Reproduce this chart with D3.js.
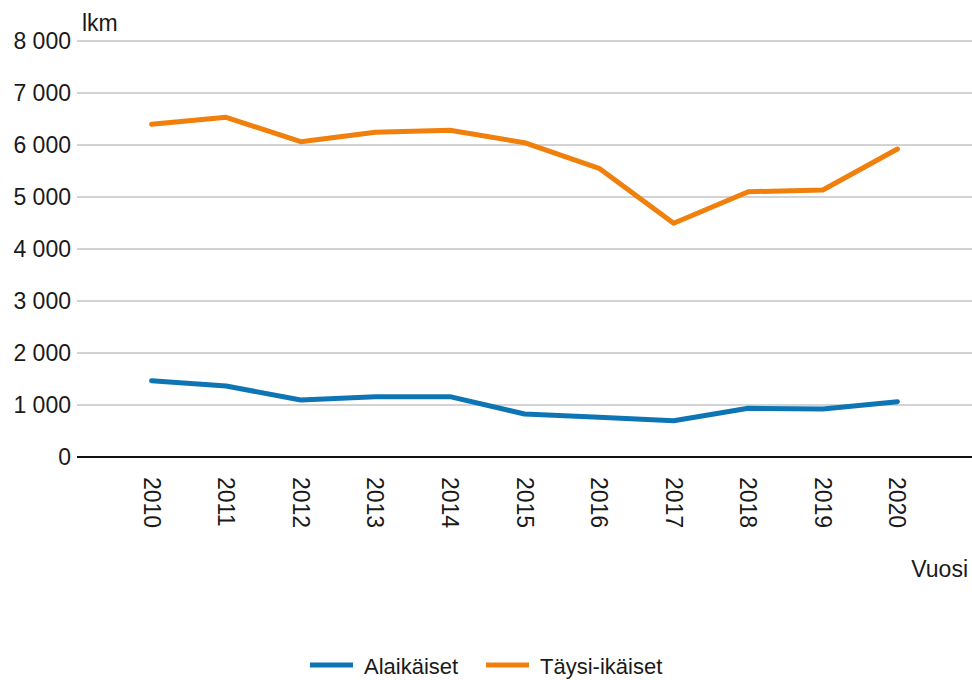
<!DOCTYPE html>
<html>
<head>
<meta charset="utf-8">
<script src="https://cdn.jsdelivr.net/npm/d3@7"></script>
<style>
  body { margin: 0; background: #fff; }
  text { font-family: "Liberation Sans", Arial, sans-serif; fill: #1a1a1a; }
</style>
</head>
<body>
<div id="figure"></div>
<script>
const years = ["2010", "2011", "2012", "2013", "2014", "2015", "2016", "2017", "2018", "2019", "2020"];
const alaikaiset = [1467, 1365, 1096, 1160, 1160, 827, 763, 698, 936, 923, 1064];
const taysiIkaiset = [6398, 6533, 6063, 6244, 6283, 6044, 5552, 4494, 5102, 5135, 5923];
const yTicks = [0, 1000, 2000, 3000, 4000, 5000, 6000, 7000, 8000];
const seriesNames = ["Alaikäiset", "Täysi-ikäiset"];
const seriesColors = ["#0e75b5", "#f07f0c"];

const width = 972,
      height = 680,
      plotLeft = 77,
      plotRight = 972,
      plotTop = 41,
      plotBottom = 457;

const svg = d3.select("#figure").append("svg")
    .attr("width", width)
    .attr("height", height);

const xscale = d3.scalePoint()
    .domain(years)
    .range([plotLeft, plotRight])
    .padding(1);

const yscale = d3.scaleLinear()
    .domain([0, 8000])
    .range([plotBottom, plotTop]);

const fmt = d => d3.format(",")(d).replace(/,/g, " ");

// Grid lines.
svg.append("g")
    .attr("stroke", "#c4c4c4")
    .attr("stroke-width", 1.5)
    .selectAll("line")
    .data(yTicks.filter(d => d > 0))
    .join("line")
        .attr("x1", plotLeft)
        .attr("x2", plotRight)
        .attr("y1", d => yscale(d))
        .attr("y2", d => yscale(d));

// Y axis labels.
svg.append("g")
    .attr("transform", `translate(${plotLeft},0)`)
    .call(d3.axisLeft(yscale).tickValues(yTicks).tickSize(0).tickPadding(6).tickFormat(fmt))
    .call(g => g.select(".domain").remove())
    .call(g => g.selectAll("text")
        .attr("font-size", 23)
        .attr("font-family", "Liberation Sans, Arial, sans-serif")
        .attr("fill", "#1a1a1a"));

// Baseline.
svg.append("line")
    .attr("x1", plotLeft)
    .attr("x2", plotRight)
    .attr("y1", yscale(0))
    .attr("y2", yscale(0))
    .attr("stroke", "#111")
    .attr("stroke-width", 2);

// X axis labels, rotated.
svg.append("g")
    .selectAll("text")
    .data(years)
    .join("text")
        .attr("transform", d => `translate(${xscale(d) - 8},${plotBottom + 20}) rotate(90)`)
        .attr("font-size", 23)
        .text(d => d);

// Axis titles.
svg.append("text")
    .attr("x", 82)
    .attr("y", 31)
    .attr("font-size", 23)
    .text("lkm");

svg.append("text")
    .attr("x", 968)
    .attr("y", 577)
    .attr("text-anchor", "end")
    .attr("font-size", 23)
    .text("Vuosi");

// Lines.
const line = d3.line()
    .x((d, i) => xscale(years[i]))
    .y(d => yscale(d));

[alaikaiset, taysiIkaiset].forEach((vals, k) => {
    svg.append("path")
        .datum(vals)
        .attr("fill", "none")
        .attr("stroke", seriesColors[k])
        .attr("stroke-width", 5)
        .attr("stroke-linejoin", "round")
        .attr("stroke-linecap", "round")
        .attr("d", line);
});

// Legend.
const legend = svg.append("g");
const legendX = [310, 486];
seriesNames.forEach((name, k) => {
    legend.append("line")
        .attr("x1", legendX[k])
        .attr("x2", legendX[k] + 43)
        .attr("y1", 665)
        .attr("y2", 665)
        .attr("stroke", seriesColors[k])
        .attr("stroke-width", 5);
    legend.append("text")
        .attr("x", legendX[k] + 54)
        .attr("y", 674)
        .attr("font-size", 22)
        .text(name);
});
</script>
</body>
</html>
